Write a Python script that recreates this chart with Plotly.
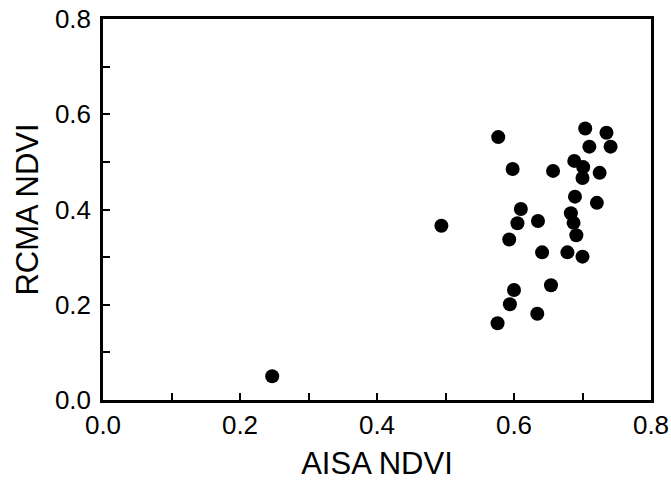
import plotly.graph_objects as go

aisa_ndvi = [0.247, 0.494, 0.704, 0.735, 0.577, 0.710, 0.741, 0.598, 0.657, 0.688,
             0.701, 0.725, 0.700, 0.689, 0.721, 0.610, 0.605, 0.635, 0.683, 0.687,
             0.691, 0.593, 0.641, 0.678, 0.700, 0.600, 0.654, 0.594, 0.634, 0.576]
rcma_ndvi = [0.050, 0.366, 0.570, 0.561, 0.552, 0.532, 0.532, 0.485, 0.481, 0.502,
             0.489, 0.477, 0.466, 0.427, 0.414, 0.401, 0.371, 0.376, 0.392, 0.372,
             0.346, 0.337, 0.310, 0.310, 0.301, 0.231, 0.241, 0.201, 0.181, 0.161]

x_title = "AISA NDVI"
y_title = "RCMA NDVI"

FONT = "Liberation Sans, Arial, sans-serif"

fig = go.Figure()
fig.add_trace(go.Scatter(
    x=aisa_ndvi, y=rcma_ndvi, mode="markers",
    marker=dict(size=14, color="black", line=dict(width=0)),
    showlegend=False, cliponaxis=False,
))

axis_common = dict(
    range=[0, 0.8], dtick=0.2, tick0=0, tickformat=".1f",
    ticks="inside", ticklen=7, tickwidth=1.5, tickcolor="black",
    minor=dict(dtick=0.1, ticks="inside", ticklen=7, tickwidth=1.5, tickcolor="black"),
    showline=True, linewidth=2.5, linecolor="black", mirror=True,
    showgrid=False, zeroline=False, automargin=False,
    tickfont=dict(family=FONT, size=26, color="black"),
    title_font=dict(family=FONT, size=31, color="black"),
)

fig.update_xaxes(**axis_common, title_text=x_title, title_standoff=14)
fig.update_yaxes(**axis_common, title_text=y_title, title_standoff=8,
                 ticklabelstandoff=4)

fig.update_layout(
    width=671, height=487,
    margin=dict(l=103, r=20, t=19, b=87),
    plot_bgcolor="white", paper_bgcolor="white",
)

fig.write_html(
    "out.html",
    config={"displayModeBar": False},
    post_script="document.body.style.margin='0';document.body.style.overflow='hidden';",
)
